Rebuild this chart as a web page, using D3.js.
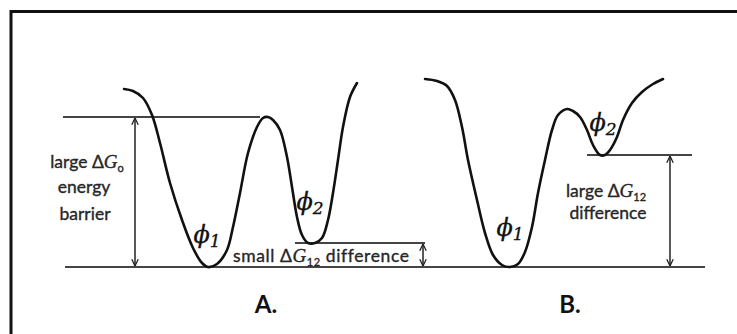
<!doctype html>
<html lang="en">
<head>
<meta charset="utf-8">
<title>Energy landscapes</title>
<script src="https://d3js.org/d3.v7.min.js"></script>
<style>
  body { margin: 0; background: #fff; }
  svg { display: block; }
  .lbl { font-family: Lato, "Open Sans", sans-serif; font-size: 17.5px; fill: #262626; stroke: #262626; stroke-width: 0.35px; }
  .phi { font-family: "DejaVu Serif", serif; font-style: italic; fill: #111; stroke: #111; stroke-width: 0.3px; }
  .tag { font-family: Lato, "Open Sans", sans-serif; font-weight: bold; font-size: 24px; fill: #111; }
</style>
</head>
<body>
<svg class="mainSVG" width="737" height="334"></svg>
<script>
// reaction coordinate (x) vs free energy (y), arbitrary units
var curveA = [[64,178],[73,176],[83,169],[92,152],[100,124],[110,84],[122,47],[133,19],[142,4],[148,0],
  [157,3],[167,17],[173,40],[180,74],[188,114],[197,140],[203,149],[208,150],[213,147],[220,137],
  [227,110],[232,80],[237,50],[242,32],[248,24],[255,24],[262,29],[268,47],[273,74],[278,107],
  [283,140],[290,170],[297,184]];
var curveB = [[365,188],[377,186],[387,181],[395,167],[402,140],[408,107],[417,67],[425,34],[433,12],[442,2],
  [450,0],[458,3],[465,15],[472,40],[478,74],[485,107],[492,137],[498,152],[507,158],[513,156],
  [520,150],[527,137],[533,122],[540,112],[545,112],[550,117],[557,130],[563,147],[572,164],[582,175],
  [593,183],[603,188]];
// horizontal energy levels: [x0, x1, energy]
var levels = [[3, 200, 150], [5, 645, 0], [235, 365, 24], [527, 632, 112]];
// double arrows: [x, from, to]
var arrows = [[75, 0, 150], [363, 0, 24], [610, 0, 112]];
// phase labels: [x, energy, subscript]
var phases = [[147, 24, "1"], [250, 57, "2"], [450, 31, "1"], [543, 136, "2"]];
var panels = ["A.", "B."];
var panelX = [206, 510];

var svg = d3.select(".mainSVG");
var xScale = d3.scaleLinear().domain([0, 650]).range([60, 710]);
var yScale = d3.scaleLinear().domain([0, 150]).range([267, 117]);

// frame (top and left edges only)
svg.append("path").attr("d", "M11,334 L11,11.5 L737,11.5")
  .attr("fill", "none").attr("stroke", "#111").attr("stroke-width", 3);

var defs = svg.append("defs");
defs.append("marker").attr("id", "head").attr("viewBox", "0 0 10 10")
  .attr("refX", 9.5).attr("refY", 5).attr("markerWidth", 8).attr("markerHeight", 8)
  .attr("markerUnits", "userSpaceOnUse").attr("orient", "auto-start-reverse")
  .append("path").attr("d", "M1,1 L9.5,5 L1,9").attr("fill", "none")
  .attr("stroke", "#222").attr("stroke-width", 1.6);

svg.selectAll(".level").data(levels).enter().append("line").attr("class", "level")
  .attr("x1", function(d) { return xScale(d[0]); }).attr("x2", function(d) { return xScale(d[1]); })
  .attr("y1", function(d) { return yScale(d[2]); }).attr("y2", function(d) { return yScale(d[2]); })
  .attr("stroke", "#444").attr("stroke-width", 1.8);

svg.selectAll(".arrow").data(arrows).enter().append("line").attr("class", "arrow")
  .attr("x1", function(d) { return xScale(d[0]); }).attr("x2", function(d) { return xScale(d[0]); })
  .attr("y1", function(d) { return yScale(d[2]) + 1; }).attr("y2", function(d) { return yScale(d[1]) - 1; })
  .attr("stroke", "#222").attr("stroke-width", 1.5)
  .attr("marker-start", "url(#head)").attr("marker-end", "url(#head)");

var line = d3.line().x(function(d) { return xScale(d[0]); }).y(function(d) { return yScale(d[1]); })
  .curve(d3.curveCatmullRom.alpha(0.5));
[curveA, curveB].forEach(function(c) {
  svg.append("path").attr("d", line(c)).attr("fill", "none")
    .attr("stroke", "#111").attr("stroke-width", 2.6).attr("stroke-linecap", "round");
});

phases.forEach(function(p) {
  var t = svg.append("text").attr("class", "phi")
    .attr("x", xScale(p[0])).attr("y", yScale(p[1])).attr("text-anchor", "middle");
  t.append("tspan").attr("font-size", 24).text("ϕ");
  t.append("tspan").attr("font-size", 17).attr("dy", 4).text(p[2]);
});

// A: barrier label
var l1 = svg.append("text").attr("class", "lbl").attr("x", 87).attr("y", 168).attr("text-anchor", "middle");
l1.append("tspan").text("large Δ");
l1.append("tspan").attr("font-style", "italic").attr("font-family", "Liberation Serif, serif").attr("font-size", 19).text("G");
l1.append("tspan").attr("font-size", 11).attr("dy", 4).text("o");
svg.append("text").attr("class", "lbl").attr("x", 84).attr("y", 193).attr("text-anchor", "middle").text("energy");
svg.append("text").attr("class", "lbl").attr("x", 85).attr("y", 220).attr("text-anchor", "middle").text("barrier");

// A: small difference label
var s = svg.append("text").attr("class", "lbl").attr("x", 233).attr("y", 262).style("letter-spacing", "0.6px");
s.append("tspan").text("small Δ");
s.append("tspan").attr("font-style", "italic").attr("font-family", "Liberation Serif, serif").attr("font-size", 19).text("G");
s.append("tspan").attr("font-size", 11).attr("dy", 4).text("12");
s.append("tspan").attr("dy", -4).text(" difference");

// B: large difference label
var b1 = svg.append("text").attr("class", "lbl").attr("x", 606).attr("y", 197).attr("text-anchor", "middle");
b1.append("tspan").text("large Δ");
b1.append("tspan").attr("font-style", "italic").attr("font-family", "Liberation Serif, serif").attr("font-size", 19).text("G");
b1.append("tspan").attr("font-size", 11).attr("dy", 4).text("12");
svg.append("text").attr("class", "lbl").attr("x", 608).attr("y", 219).attr("text-anchor", "middle").text("difference");

svg.selectAll(".tag").data(panels).enter().append("text").attr("class", "tag")
  .attr("x", function(d, i) { return xScale(panelX[i]); }).attr("y", 313)
  .attr("text-anchor", "middle").text(function(d) { return d; });
</script>
</body>
</html>
